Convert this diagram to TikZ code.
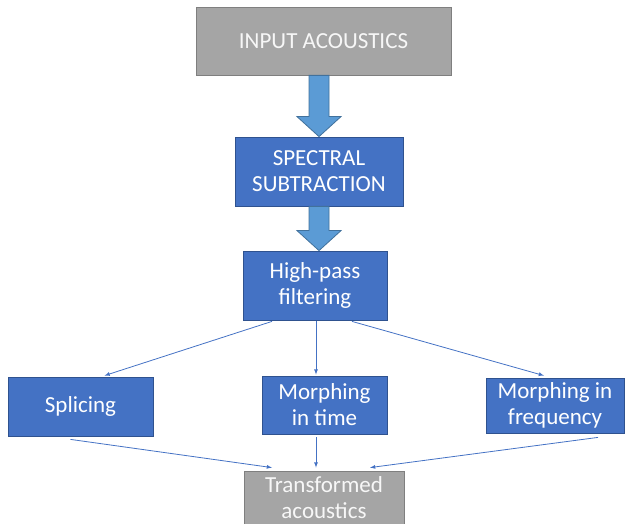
\documentclass[tikz,border=0pt]{standalone}
\usepackage{fontspec}
\setmainfont{Carlito}
\usepackage{tikz}
\usetikzlibrary{calc,arrows}
\definecolor{boxblue}{HTML}{4472C4}
\definecolor{boxedge}{HTML}{2F528F}
\definecolor{fatblue}{HTML}{5B9BD5}
\definecolor{fatedge}{HTML}{41719C}
\definecolor{boxgrey}{HTML}{A5A5A5}
\definecolor{greyedge}{HTML}{7F7F7F}

\begin{document}
\begin{tikzpicture}
[x=1pt, y=-1pt,
 box/.style={draw=boxedge, fill=boxblue, text=white, align=center, inner sep=0pt, line width=0.8pt, font=\fontsize{23}{26}\selectfont},
 greybox/.style={box, draw=greyedge, fill=boxgrey, text=white!94!gray},
 fat/.style={draw=fatedge, fill=fatblue, line width=0.8pt},
 link/.style={draw=boxblue, line width=0.8pt, ->, >=latex}]
    \useasboundingbox (0,0) rectangle (625,524);
    \node[greybox, minimum width=255, minimum height=68] (I) at (323.5,41) {INPUT ACOUSTICS};
    \node[box, minimum width=168, minimum height=69] (S) at (319,171.5) {SPECTRAL\\SUBTRACTION};
    \node[box, minimum width=144, minimum height=69] (H) at (315,285.5) {High-pass\\filtering};
    \node[box, minimum width=145, minimum height=59] (Sp) at (80.5,406.5) {Splicing};
    \node[box, minimum width=125, minimum height=58] (T) at (324.5,405) {Morphing\\in time};
    \node[box, minimum width=138, minimum height=55] (F) at (555,405.5) {Morphing in\\frequency};
    \node[greybox, minimum width=160, minimum height=54] (Tr) at (324,498) {Transformed\\acoustics};
    \draw[fat] ($(S.north |- I.south)+(-10,0)$) -- ($(S.north)+(-10,-20)$) -- ++(-12,0) -- (S.north)
        -- ++(22,-20) -- ++(-12,0) -- ($(S.north |- I.south)+(10,0)$) -- cycle;
    \draw[fat] ($(S.south)+(-10,0)$) -- ($(S.south |- H.north)+(-10,-20)$) -- ++(-12,0) -- (S.south |- H.north)
        -- ++(22,-20) -- ++(-12,0) -- ($(S.south)+(10,0)$) -- cycle;
    \draw[link] ($(H.south)+(-43,1)$) -- ($(Sp.north)+(24,-1)$);
    \draw[link] ($(H.south)+(1,1)$) -- ($(T.north)+(-8.5,-1)$);
    \draw[link] ($(H.south)+(37,1)$) -- ($(F.north)+(-11,-2)$);
    \draw[link] ($(Sp.south)+(-10,3)$) -- ($(Tr.north)+(-52,-3)$);
    \draw[link] ($(T.south)+(-8.5,3)$) -- ($(Tr.north)+(-8,-3)$);
    \draw[link] ($(F.south)+(43,4)$) -- ($(Tr.north)+(46,-3)$);
\end{tikzpicture}
\end{document}
